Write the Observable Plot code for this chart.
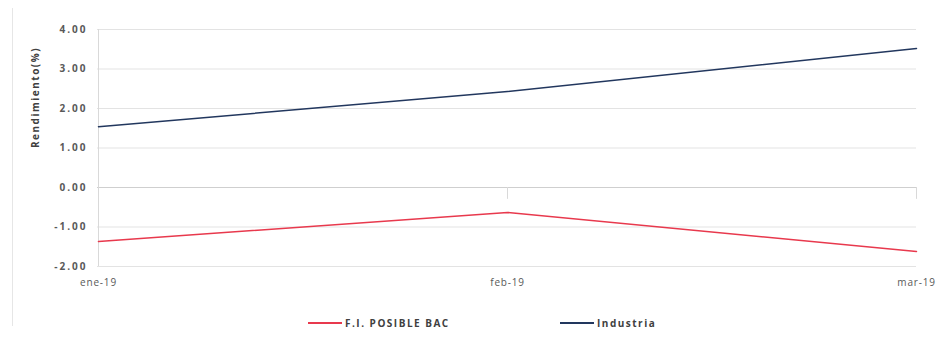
<!DOCTYPE html>
<html><head><meta charset="utf-8">
<script src="https://cdn.jsdelivr.net/npm/d3@7"></script>
<script src="https://cdn.jsdelivr.net/npm/@observablehq/plot@0.6"></script>
<style>
body{margin:0;background:#fff;font-family:"Open Sans",sans-serif;}
#wrap{position:relative;width:936px;height:337px;overflow:hidden;}
#frame{position:absolute;left:12px;top:8px;width:1px;height:318px;background:#e6e6e6;}
#legend{position:absolute;left:0;top:315px;width:936px;height:16px;font-size:10px;font-weight:bold;color:#404040;letter-spacing:1.5px;}
.item{position:absolute;top:0;display:flex;align-items:center;height:16px;}
.sw{width:34px;height:2px;margin-right:3px;}
.yax text{letter-spacing:2px;}
.xax text{letter-spacing:0.8px;}
.ytitle text{letter-spacing:1.5px;}
</style></head><body>
<div id="wrap"><div id="frame"></div><div id="chart"></div><div id="legend"></div></div>
<script>
const months = ["ene-19","feb-19","mar-19"];
const seriesNames = ["F.I. POSIBLE BAC","Industria"];
const fondoValues = [-1.37, -0.63, -1.62];
const industriaValues = [1.54, 2.43, 3.52];
const yTicks = [-2,-1,0,1,2,3,4];
const colors = ["#e8394d","#22375e"];

const rows = [];
months.forEach((m,i)=>{
  rows.push({mes:m, serie:seriesNames[0], v:fondoValues[i]});
  rows.push({mes:m, serie:seriesNames[1], v:industriaValues[i]});
});

const plot = Plot.plot({
  width:936, height:300,
  marginLeft:97, marginRight:20, marginTop:29, marginBottom:34,
  style:{fontFamily:"'Open Sans',sans-serif", fontSize:"10px", color:"#555", background:"#fff", overflow:"visible"},
  x:{type:"point", domain:months, label:null, padding:0},
  y:{domain:[-2,4], label:null},
  color:{domain:seriesNames, range:colors},
  marks:[
    Plot.ruleY(yTicks.filter(d=>d!==0), {stroke:"#e3e3e3", strokeWidth:1}),
    Plot.ruleY([0], {stroke:"#cfcfcf", strokeWidth:1}),
    Plot.ruleX([months[0]], {stroke:"#d9d9d9"}),
    Plot.ruleX(months.slice(1), {x:d=>d, y1:0, y2:-0.3, stroke:"#d9d9d9"}),
    Plot.axisY({ticks:yTicks, tickFormat:d=>d.toFixed(2), tickSize:0, tickPadding:10, fontWeight:"bold", fill:"#595959", fontSize:10, label:null, className:"yax"}),
    Plot.axisX({tickSize:0, tickPadding:12, fill:"#595959", fontSize:10, label:null, className:"xax"}),
    Plot.text(["Rendimiento(%)"], {frameAnchor:"left", dx:-62, rotate:-90, fontWeight:"bold", fontSize:10, fill:"#404040", className:"ytitle"}),
    Plot.line(rows, {x:"mes", y:"v", stroke:"serie", strokeWidth:1.5})
  ]
});
document.getElementById("chart").appendChild(plot);

const legend = document.getElementById("legend");
const pos = [308, 560];
seriesNames.forEach((s,i)=>{
  const it = document.createElement("div");
  it.className="item"; it.style.left=pos[i]+"px";
  it.innerHTML = `<div class="sw" style="background:${colors[i]}"></div><span>${s}</span>`;
  legend.appendChild(it);
});
</script>
</body></html>
